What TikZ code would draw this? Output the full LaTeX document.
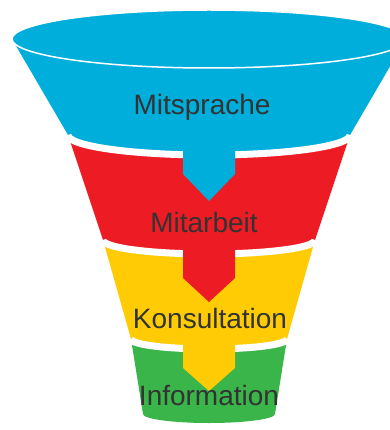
\documentclass[tikz,border=0pt]{standalone}
\usepackage{fontspec}
\setmainfont{Liberation Sans}
\definecolor{fblue}{RGB}{0,174,219}
\definecolor{fred}{RGB}{237,28,36}
\definecolor{fyellow}{RGB}{255,203,5}
\definecolor{fgreen}{RGB}{57,181,74}

\begin{document}
\begin{tikzpicture}[x=1pt,y=-1pt,
  stage/.style={font=\fontsize{28}{30}\selectfont, text=black!80, anchor=base, inner sep=0pt},
  seam/.style={draw=white, line width=7pt}]
\useasboundingbox (0,0) rectangle (389,430);

\fill[fgreen] (131,339) -- (143,414) arc[start angle=180,end angle=360,x radius=66pt,y radius=9pt]
      -- (287,339) -- cycle;
\fill[fyellow] (103,240) -- (131,339) arc[start angle=180,end angle=360,x radius=78pt,y radius=10pt]
      -- (315,240) -- cycle;
\fill[fred] (68,135) -- (103,240) arc[start angle=180,end angle=360,x radius=106pt,y radius=14pt]
      -- (350,135) -- cycle;
\fill[fblue] (12,39) -- (68,135) arc[start angle=180,end angle=360,x radius=141pt,y radius=20pt]
      -- (406,39) -- cycle;

\draw[seam] (131,339) arc[start angle=180,end angle=360,x radius=78pt,y radius=10pt];
\draw[seam] (103,240) arc[start angle=180,end angle=360,x radius=106pt,y radius=14pt];
\draw[seam] (68,135) arc[start angle=180,end angle=360,x radius=141pt,y radius=20pt];

\fill[fyellow] (183,335) -- (183,368) -- (209,391) -- (235,368) -- (235,335) -- cycle;
\fill[fred] (183,240) -- (183,278) -- (209,302) -- (235,278) -- (235,240) -- cycle;
\fill[fblue] (183,140) -- (183,174) -- (209,201) -- (235,174) -- (235,140) -- cycle;

\draw[fill=fblue, draw=white, line width=1.5pt] (209,39) ellipse[x radius=197pt,y radius=29pt];

\node[stage] (mitsprache) at (202,115) {Mitsprache};
\node[stage] (mitarbeit) at (204,232) {Mitarbeit};
\node[stage] (konsultation) at (210,328) {Konsultation};
\node[stage] (information) at (209,405) {Information};
\end{tikzpicture}
\end{document}
